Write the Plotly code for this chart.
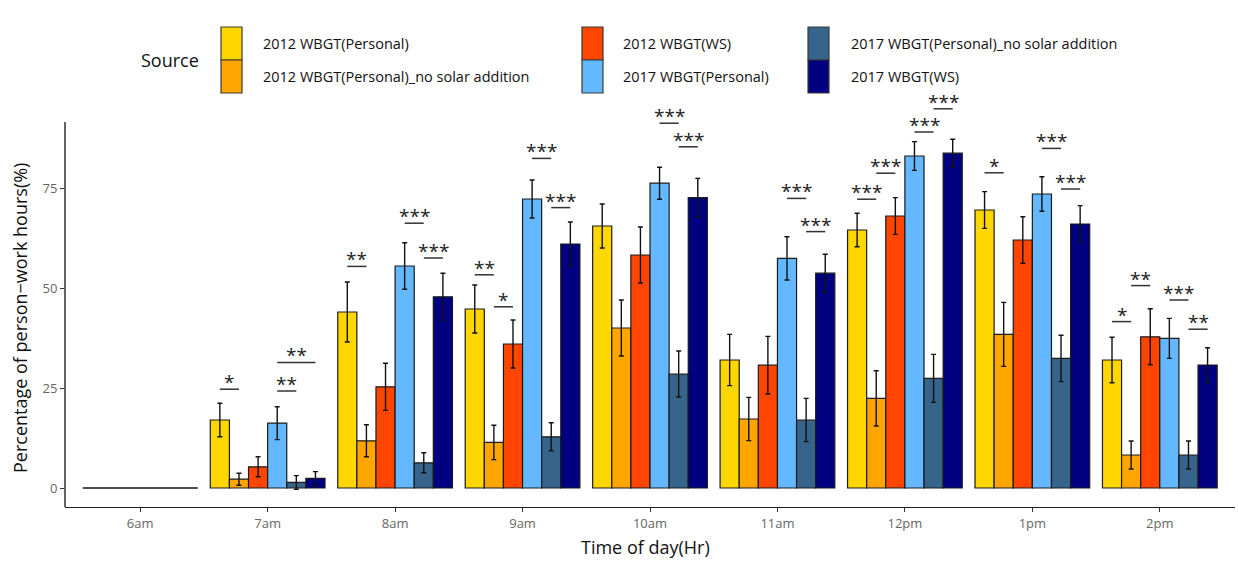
import plotly.graph_objects as go

# ---- data -------------------------------------------------------------
hours = ["6am", "7am", "8am", "9am", "10am", "11am", "12pm", "1pm", "2pm"]

series_names = [
    "2012 WBGT(Personal)",
    "2012 WBGT(Personal)_no solar addition",
    "2012 WBGT(WS)",
    "2017 WBGT(Personal)",
    "2017 WBGT(Personal)_no solar addition",
    "2017 WBGT(WS)",
]
series_colors = ["#FFD700", "#FFA500", "#FF4500", "#63B8FF", "#36648B", "#000080"]

p2012 = [0, 17.0, 44.0, 44.75, 65.5, 32.0, 64.5, 69.5, 32.0]
p2012_err = [0, 4.2, 7.5, 6.0, 5.5, 6.4, 4.2, 4.6, 5.7]
ns2012 = [0, 2.2, 11.8, 11.4, 40.0, 17.25, 22.4, 38.4, 8.25]
ns2012_err = [0, 1.5, 4.0, 4.3, 7.0, 5.4, 6.9, 8.0, 3.5]
ws2012 = [0, 5.3, 25.3, 36.0, 58.25, 30.7, 68.0, 62.0, 37.8]
ws2012_err = [0, 2.5, 5.9, 6.0, 7.0, 7.2, 4.6, 5.8, 7.0]
p2017 = [0, 16.2, 55.5, 72.25, 76.2, 57.4, 83.0, 73.5, 37.4]
p2017_err = [0, 4.1, 5.8, 4.75, 4.0, 5.4, 3.6, 4.3, 5.0]
ns2017 = [0, 1.4, 6.3, 12.8, 28.5, 17.0, 27.4, 32.4, 8.25]
ns2017_err = [0, 1.7, 2.5, 3.5, 5.75, 5.4, 6.0, 5.8, 3.5]
ws2017 = [0, 2.4, 47.8, 61.0, 72.6, 53.7, 83.7, 66.0, 30.75]
ws2017_err = [0, 1.7, 5.9, 5.5, 4.8, 4.75, 3.5, 4.6, 4.3]

series_values = [p2012, ns2012, ws2012, p2017, ns2017, ws2017]
series_errors = [p2012_err, ns2012_err, ws2012_err, p2017_err, ns2017_err, ws2017_err]

# significance marks: (hour index, first bar, second bar, height, label)
signif = [
    (1, 0, 1, 24.7, "*"),
    (1, 3, 4, 24.25, "**"),
    (1, 3, 5, 31.4, "**"),
    (2, 0, 1, 55.4, "**"),
    (2, 3, 4, 66.2, "***"),
    (2, 4, 5, 57.5, "***"),
    (3, 0, 1, 53.3, "**"),
    (3, 1, 2, 45.3, "*"),
    (3, 3, 4, 82.4, "***"),
    (3, 4, 5, 70.1, "***"),
    (4, 3, 4, 91.2, "***"),
    (4, 4, 5, 85.3, "***"),
    (5, 3, 4, 72.4, "***"),
    (5, 4, 5, 64.1, "***"),
    (6, 0, 1, 72.2, "***"),
    (6, 1, 2, 78.7, "***"),
    (6, 3, 4, 89.0, "***"),
    (6, 4, 5, 94.8, "***"),
    (7, 0, 1, 78.8, "*"),
    (7, 3, 4, 84.9, "***"),
    (7, 4, 5, 74.75, "***"),
    (8, 0, 1, 41.6, "*"),
    (8, 1, 2, 50.6, "**"),
    (8, 3, 4, 47.0, "***"),
    (8, 4, 5, 39.7, "**"),
]

y_ticks = [0, 25, 50, 75]

# ---- layout constants -------------------------------------------------
W, H = 1238, 561
ML, MR, MT, MB = 65, 3, 100, 54
X_RANGE = [-0.59, 8.59]
Y_RANGE = [-4.75, 97]
Y_AXIS_TOP = 91.5
DODGE = 0.9
N = len(series_names)
BAR_W = DODGE / N
FONT = "Open Sans"


def bar_center(i, k):
    return i - DODGE / 2 + BAR_W * (k + 0.5)


def px_x(px):
    return (px - ML) / (W - ML - MR)


def px_y(py):
    return (H - MB - py) / (H - MT - MB)


fig = go.Figure()
x_idx = list(range(len(hours)))

for k, (name, color, vals, errs) in enumerate(zip(series_names, series_colors,
                                                   series_values, series_errors)):
    fig.add_trace(go.Bar(
        x=x_idx, y=vals, name=name,
        marker=dict(color=color, line=dict(color="#1a1a1a", width=1.2)),
        error_y=dict(type="data", array=errs, visible=True,
                     color="#111111", thickness=1.4, width=2.5),
    ))
    # zero-height bars collapse to their outline along the baseline
    zx, zy = [], []
    for i, v in enumerate(vals):
        if v == 0:
            c = bar_center(i, k)
            zx += [c - BAR_W / 2, c + BAR_W / 2, None]
            zy += [v, v, None]
    if zx:
        fig.add_trace(go.Scatter(x=zx, y=zy, mode="lines", hoverinfo="skip",
                                 line=dict(color="#4d4d4d", width=2)))

# significance brackets with their labels
shapes = []
annotations = []
for hi, a, b, yv, lab in signif:
    x0, x1 = bar_center(hi, a), bar_center(hi, b)
    shapes.append(dict(type="line", xref="x", yref="y", x0=x0, x1=x1, y0=yv, y1=yv,
                       line=dict(color="#333333", width=1.5)))
    annotations.append(dict(x=(x0 + x1) / 2, y=yv, xref="x", yref="y", text=lab,
                            showarrow=False, yanchor="middle", yshift=7,
                            font=dict(family=FONT, size=19, color="#222222")))

# y axis line
shapes.append(dict(type="line", xref="paper", yref="y", x0=0, x1=0,
                   y0=Y_RANGE[0], y1=Y_AXIS_TOP,
                   line=dict(color="#222222", width=1.4)))

# axis titles
annotations.append(dict(text="Time of day(Hr)", xref="paper", yref="paper",
                        x=px_x(645), y=px_y(547), xanchor="center", yanchor="middle",
                        showarrow=False,
                        font=dict(family=FONT, size=18, color="#111111")))
annotations.append(dict(text="Percentage of person\u2212work hours(%)", xref="paper",
                        yref="paper", x=px_x(20), y=px_y(318), xanchor="center",
                        yanchor="middle", textangle=-90, showarrow=False,
                        font=dict(family=FONT, size=18, color="#111111")))

# legend drawn as stacked keys in three columns
annotations.append(dict(text="Source", xref="paper", yref="paper", x=px_x(170), y=px_y(60),
                        xanchor="center", yanchor="middle", showarrow=False,
                        font=dict(family=FONT, size=18, color="#111111")))
key_cols = [(221, 261), (582, 621), (808, 849)]
key_w = 21
row_tops = [27, 60]
row_h = 33
for k, (name, color) in enumerate(zip(series_names, series_colors)):
    col, row = divmod(k, 2)
    kx, tx = key_cols[col]
    top = row_tops[row]
    shapes.append(dict(type="rect", xref="paper", yref="paper",
                       x0=px_x(kx), x1=px_x(kx + key_w), y0=px_y(top + row_h), y1=px_y(top),
                       fillcolor=color, line=dict(color="#3a3a3a", width=1.2)))
    annotations.append(dict(text=name, xref="paper", yref="paper", x=px_x(tx),
                            y=px_y(top + row_h / 2), xanchor="left", yanchor="middle",
                            showarrow=False,
                            font=dict(family=FONT, size=14.5, color="#111111")))

fig.update_layout(
    width=W, height=H,
    margin=dict(l=ML, r=MR, t=MT, b=MB),
    paper_bgcolor="white", plot_bgcolor="white",
    barmode="group", bargap=1 - DODGE, bargroupgap=0,
    showlegend=False,
    shapes=shapes, annotations=annotations,
    font=dict(family=FONT),
)
fig.update_xaxes(range=X_RANGE, tickmode="array", tickvals=x_idx, ticktext=hours,
                 showgrid=False, zeroline=False, showline=True, linecolor="#222222",
                 linewidth=1.4, ticks="outside", ticklen=4, tickcolor="#333333",
                 tickfont=dict(family=FONT, size=13, color="#666666"))
fig.update_yaxes(range=Y_RANGE, tickmode="array", tickvals=y_ticks,
                 showgrid=False, zeroline=False, showline=False,
                 ticks="outside", ticklen=4, tickcolor="#333333",
                 tickfont=dict(family=FONT, size=13, color="#666666"))

fig.write_html("out.html")
